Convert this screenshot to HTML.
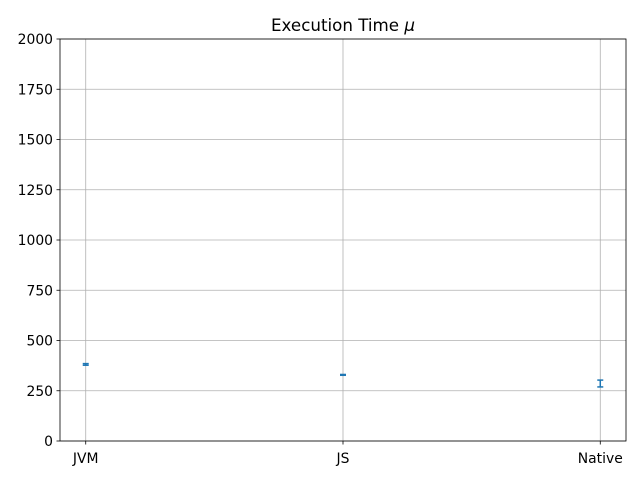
<!DOCTYPE html>
<html><head><meta charset="utf-8"><style>
body{margin:0;background:#fff;font-family:"DejaVu Sans","Liberation Sans",sans-serif}
</style></head><body>
<svg id="c" width="640" height="480" xmlns="http://www.w3.org/2000/svg" font-family="DejaVu Sans, Liberation Sans, sans-serif"></svg>
<script>
const categories=["JVM","JS","Native"];
const means=[381,329,286];
const errors=[4,2,17];
const yTicks=[0,250,500,750,1000,1250,1500,1750,2000];
const L=60,R=626,T=39,B=441;
const xs=i=>L+(i+0.1)/2.2*(R-L);
const ys=v=>B-v/2000*(B-T);
const svg=document.getElementById('c');
const NS="http://www.w3.org/2000/svg";
function mk(t,a,txt){const e=document.createElementNS(NS,t);for(const k in a)e.setAttribute(k,a[k]);if(txt!==undefined)e.textContent=txt;svg.appendChild(e);return e;}
yTicks.forEach(v=>{
const y=ys(v);
let g=mk('line',{x1:L,x2:R,y1:y,y2:y,stroke:'#b0b0b0','stroke-width':0.8});


let t=mk('line',{x1:L-3.5,x2:L,y1:y,y2:y,stroke:'#000','stroke-width':0.8});


let l=mk('text',{x:L-7,y:y+5,'text-anchor':'end','font-size':13.9},v);


});
categories.forEach((c,i)=>{
const x=xs(i);
let g=mk('line',{x1:x,x2:x,y1:T,y2:B,stroke:'#b0b0b0','stroke-width':0.8});


let t=mk('line',{x1:x,x2:x,y1:B,y2:B+3.5,stroke:'#000','stroke-width':0.8});


let l=mk('text',{x:x,y:B+22,'text-anchor':'middle','font-size':13.9},c);


const y1=ys(means[i]-errors[i]),y2=ys(means[i]+errors[i]);
let e=mk('line',{x1:x,x2:x,y1:y1,y2:y2,stroke:'#1f77b4','stroke-width':1.5});


[y1,y2].forEach(y=>{let cp=mk('line',{x1:x-3,x2:x+3,y1:y,y2:y,stroke:'#1f77b4','stroke-width':1.5});

});
});
let f=mk('rect',{x:L,y:T,width:R-L,height:B-T,fill:'none',stroke:'#000','stroke-width':0.8});


let ti=mk('text',{x:(L+R)/2,y:31,'text-anchor':'middle','font-size':16.7},'Execution Time ');


const mu=document.createElementNS(NS,'tspan');mu.setAttribute('font-style','italic');mu.textContent='μ';ti.appendChild(mu);
</script>
</body></html>
